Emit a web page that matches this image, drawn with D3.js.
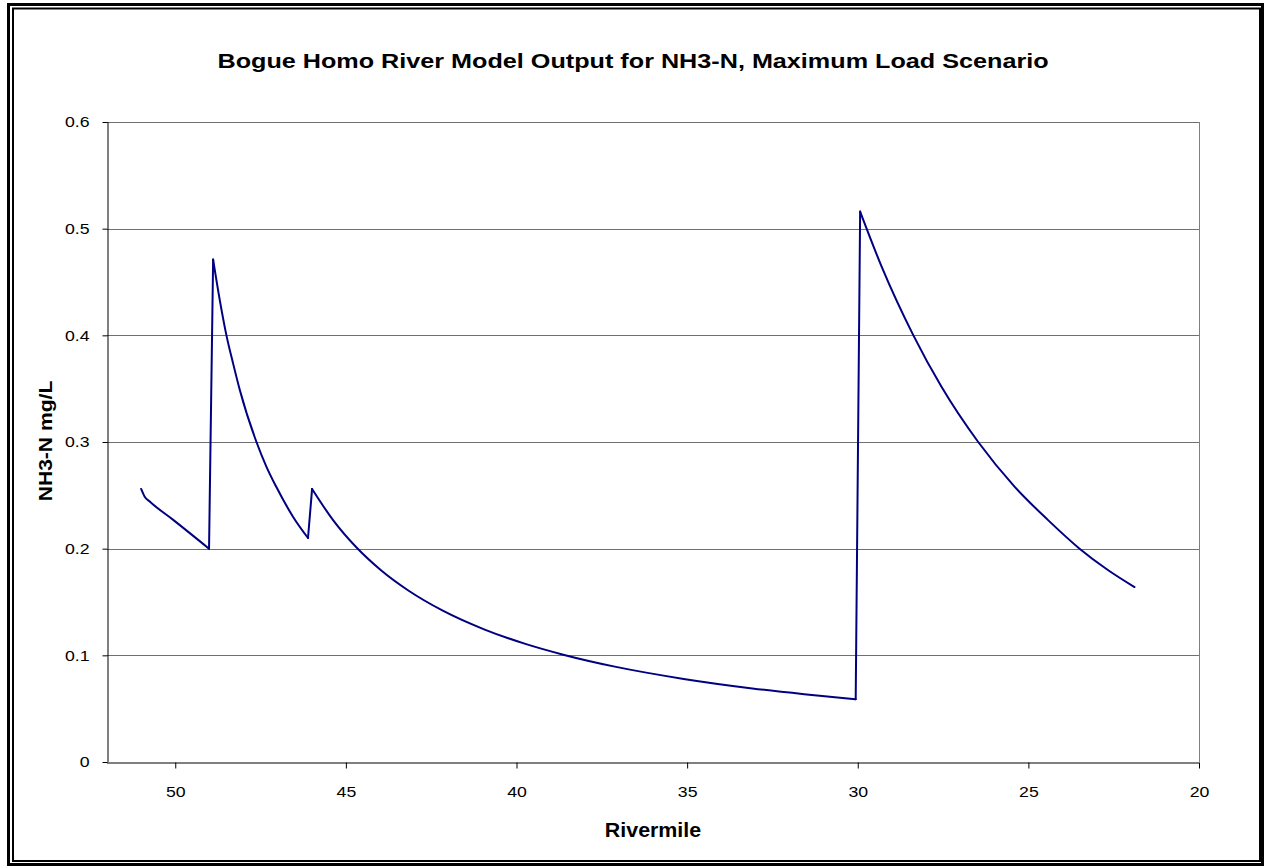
<!DOCTYPE html>
<html>
<head>
<meta charset="utf-8">
<script src="https://cdn.jsdelivr.net/npm/d3@7"></script>
<style>
  html, body { margin: 0; padding: 0; background: #fff; }
  svg { display: block; font-family: Arial, "Liberation Sans", sans-serif; }
</style>
</head>
<body>
<svg id="chart" width="1267" height="867"></svg>
<script>
// ---- data ----
const title = "Bogue Homo River Model Output for NH3-N, Maximum Load Scenario";
const xLabel = "Rivermile";
const yLabel = "NH3-N mg/L";
const rivermile = [51.0, 50.90, 50.74, 50.06, 49.01,
  48.89, 48.70, 48.50, 48.30, 48.11, 47.62, 47.33, 47.04, 46.55, 46.11,
  45.99, 45.38, 44.68, 43.98, 43.17, 42.16, 40.95, 39.74, 38.63, 37.12, 35.10, 33.09, 31.57, 30.06,
  29.93, 29.30, 28.37, 27.55, 26.47, 25.40, 24.43, 23.50, 22.67, 21.89];
const nh3n = [0.256, 0.249, 0.244, 0.227, 0.200,
  0.471, 0.434, 0.400, 0.373, 0.349, 0.300, 0.277, 0.258, 0.230, 0.210,
  0.256, 0.227, 0.2008, 0.180, 0.1608, 0.1419, 0.1244, 0.1107, 0.1006, 0.0894, 0.0779, 0.0690, 0.0636, 0.0589,
  0.516, 0.4644, 0.400, 0.352, 0.300, 0.258, 0.227, 0.200, 0.180, 0.164];
const xTicks = [50, 45, 40, 35, 30, 25, 20];
const yTicks = [0, 0.1, 0.2, 0.3, 0.4, 0.5, 0.6];

// ---- layout ----
const svg = d3.select("#chart");
const FONT = "Arial, 'Liberation Sans', sans-serif";
const plot = { left: 107, top: 122, right: 1199, bottom: 762 };

const x = d3.scaleLinear().domain([52, 20]).range([plot.left, plot.right]);
const y = d3.scaleLinear().domain([0, 0.6]).range([plot.bottom, plot.top]);

// double border
svg.append("rect").attr("x", 8.5).attr("y", 4.5).attr("width", 1254).attr("height", 860)
  .attr("fill", "none").attr("stroke", "#000").attr("stroke-width", 3);
svg.append("rect").attr("x", 13).attr("y", 8.5).attr("width", 1247).attr("height", 852.5)
  .attr("fill", "none").attr("stroke", "#000").attr("stroke-width", 2);

// title (text in the reference is stretched horizontally)
svg.append("text").attr("transform", "translate(633,68) scale(1.26,1)").attr("text-anchor", "middle")
  .attr("font-size", 20).attr("font-weight", "bold").text(title);

// gridlines
svg.append("g").selectAll("line").data(yTicks.filter(d => d > 0)).join("line")
  .attr("x1", plot.left).attr("x2", plot.right)
  .attr("y1", d => Math.round(y(d)) + 0.5).attr("y2", d => Math.round(y(d)) + 0.5)
  .attr("stroke", "#707070").attr("stroke-width", 1);

// plot-area right border
svg.append("line").attr("x1", plot.right + 0.5).attr("x2", plot.right + 0.5)
  .attr("y1", plot.top).attr("y2", plot.bottom).attr("stroke", "#808080");

// axes
const xAxis = d3.axisBottom(x).tickValues(xTicks).tickSize(6).tickPadding(18).tickFormat(d3.format("d"));
const gx = svg.append("g").attr("transform", `translate(0,${plot.bottom + 0.5})`).call(xAxis);
gx.select(".domain").attr("d", `M${plot.left},0.5H${plot.right}`).attr("stroke", "#000");
gx.selectAll(".tick text").attr("font-size", 15).attr("font-family", FONT).attr("fill", "#000")
  .each(function() {
    const t = d3.select(this); const yy = t.attr("y");
    t.attr("y", null).attr("transform", `translate(0,${yy}) scale(1.18,1)`);
  });
gx.selectAll(".tick line").attr("stroke", "#000");

const yAxis = d3.axisLeft(y).tickValues(yTicks).tickSize(5).tickPadding(13)
  .tickFormat(d => d === 0 ? "0" : d3.format(".1f")(d));
const gy = svg.append("g").attr("transform", `translate(${plot.left + 0.5},0)`).call(yAxis);
gy.select(".domain").attr("d", `M0.5,${plot.top}V${plot.bottom}`).attr("stroke", "#000");
gy.selectAll(".tick text").attr("font-size", 15).attr("font-family", FONT).attr("fill", "#000")
  .each(function() {
    const t = d3.select(this); const xx = t.attr("x");
    t.attr("x", null).attr("transform", `translate(${xx},0) scale(1.18,1)`);
  });
gy.selectAll(".tick line").attr("stroke", "#000");

// axis labels
svg.append("text").attr("transform", `translate(${(plot.left + plot.right) / 2},837) scale(1.07,1)`)
  .attr("text-anchor", "middle").attr("font-size", 20).attr("font-weight", "bold").text(xLabel);
svg.append("text").attr("transform", `translate(52,441) rotate(-90) scale(1.14,1)`).attr("text-anchor", "middle")
  .attr("font-size", 18.5).attr("font-weight", "bold").text(yLabel);

// series: smooth decay runs, straight vertical jumps where concentration rises
const pts = rivermile.map((r, i) => [r, nh3n[i]]);
const runs = [];
let cur = [pts[0]];
for (let i = 1; i < pts.length; i++) {
  if (pts[i][1] > pts[i - 1][1]) { runs.push(cur); cur = [pts[i]]; }
  else cur.push(pts[i]);
}
runs.push(cur);
const smooth = d3.line().x(d => x(d[0])).y(d => y(d[1])).curve(d3.curveMonotoneX);
const straight = d3.line().x(d => x(d[0])).y(d => y(d[1]));
const gLine = svg.append("g").attr("fill", "none").attr("stroke", "#000080").attr("stroke-width", 2)
  .attr("stroke-linejoin", "round").attr("stroke-linecap", "round");
gLine.selectAll("path.run").data(runs).join("path").attr("class", "run").attr("d", smooth);
const jumps = [];
for (let i = 1; i < runs.length; i++) jumps.push([runs[i - 1][runs[i - 1].length - 1], runs[i][0]]);
gLine.selectAll("path.jump").data(jumps).join("path").attr("class", "jump").attr("d", straight);
</script>
</body>
</html>
